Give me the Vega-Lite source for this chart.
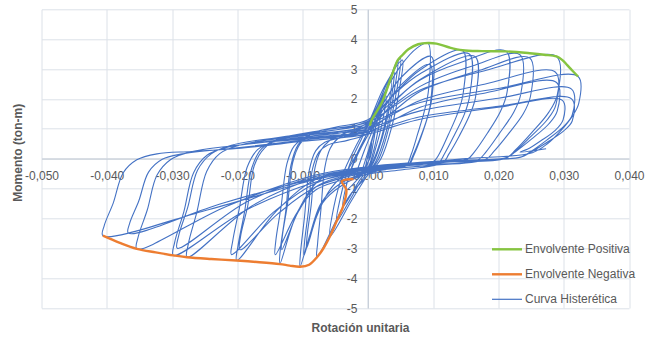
{
  "$schema": "https://vega.github.io/schema/vega-lite/v6.json",
  "autosize": "none",
  "width": 587.5,
  "height": 298.7,
  "padding": {"left": 41.5, "top": 9.3, "right": 17, "bottom": 35},
  "background": "white",
  "config": {
    "view": {"stroke": null},
    "font": "Liberation Sans",
    "axis": {"labelFont": "Liberation Sans", "titleFont": "Liberation Sans"}
  },
  "datasets": {
    "curva": [
      {"x":0,"y":0},
      {"x":0.0003,"y":0.3},{"x":0.0006,"y":0.55},{"x":0.0003,"y":0.1},{"x":0,"y":-0.15},{"x":-0.0005,"y":-0.45},
      {"x":-0.0002,"y":-0.1},{"x":0.0004,"y":0.4},{"x":0.0012,"y":1.05},{"x":0.0008,"y":0.5},{"x":0.0003,"y":0},{"x":-0.0005,"y":-0.3},{"x":-0.0012,"y":-0.62},
      {"x":-0.0006,"y":-0.2},{"x":0.0002,"y":0.35},{"x":0.0011,"y":1.0},{"x":0.0021,"y":1.7},{"x":0.0016,"y":1.0},{"x":0.0008,"y":0.2},{"x":0,"y":-0.3},{"x":-0.0012,"y":-0.55},{"x":-0.0022,"y":-0.68},
      {"x":-0.0015,"y":-0.3},{"x":-0.0005,"y":0.3},{"x":0.0012,"y":1.2},{"x":0.0028,"y":2.1},{"x":0.0022,"y":1.2},{"x":0.0012,"y":0.35},{"x":0.0003,"y":-0.2},{"x":-0.0015,"y":-0.55},{"x":-0.004,"y":-0.76},
      {"x":-0.003,"y":-0.35},{"x":-0.0012,"y":0.35},{"x":0.0008,"y":1.1},{"x":0.002,"y":1.85},{"x":0.0036,"y":2.6},{"x":0.003,"y":1.6},{"x":0.0018,"y":0.5},{"x":0.0005,"y":-0.2},{"x":-0.0012,"y":-0.6},{"x":-0.0033,"y":-1.04},
      {"x":-0.0026,"y":-0.4},{"x":-0.0012,"y":0.3},{"x":0.0005,"y":1.0},{"x":0.0022,"y":1.9},{"x":0.004,"y":2.9},{"x":0.0034,"y":1.8},{"x":0.0022,"y":0.7},{"x":0.0008,"y":-0.15},{"x":-0.0012,"y":-0.7},{"x":-0.0038,"y":-1.6},
      {"x":-0.0032,"y":-0.8},{"x":-0.0018,"y":0.1},{"x":0,"y":0.9},{"x":0.0022,"y":2.0},{"x":0.0046,"y":3.31},{"x":0.004,"y":2.2},{"x":0.0028,"y":0.9},{"x":0.0012,"y":-0.1},{"x":-0.0012,"y":-0.8},{"x":-0.0028,"y":-1.4},{"x":-0.0048,"y":-2.1},
      {"x":-0.0042,"y":-1.3},{"x":-0.0028,"y":-0.2},{"x":-0.001,"y":0.65},{"x":0.0015,"y":1.8},{"x":0.0033,"y":2.7},{"x":0.005,"y":3.35},{"x":0.0045,"y":2.4},{"x":0.0034,"y":1.2},{"x":0.0018,"y":0.05},{"x":-0.0002,"y":-0.6},{"x":-0.0025,"y":-1.4},{"x":-0.0058,"y":-2.6},
      {"x":-0.0052,"y":-1.6},{"x":-0.0038,"y":-0.5},{"x":-0.002,"y":0.35},{"x":0.0003,"y":1.3},{"x":0.0025,"y":2.4},{"x":0.0053,"y":3.3},{"x":0.0048,"y":2.3},{"x":0.0037,"y":1.1},{"x":0.002,"y":0},{"x":0,"y":-0.55},{"x":-0.003,"y":-1.3},{"x":-0.0078,"y":-3.3},
      {"x":-0.0077,"y":-2.83},{"x":-0.0072,"y":-1.72},{"x":-0.0066,"y":-0.3},{"x":-0.0058,"y":0.33},{"x":-0.0047,"y":0.65},
      {"x":-0.002,"y":0.9},{"x":0,"y":1.15},{"x":0.0025,"y":2.2},{"x":0.005,"y":3.1},{"x":0.0075,"y":3.7},{"x":0.0092,"y":3.87},
      {"x":0.0093,"y":2.32},{"x":0.0087,"y":1.63},{"x":0.0076,"y":0.81},{"x":0.0066,"y":0.12},{"x":0.0059,"y":-0.21},{"x":0.003,"y":-0.26},{"x":0,"y":-0.3},{"x":-0.004,"y":-0.62},{"x":-0.006,"y":-1.1},{"x":-0.0085,"y":-2.3},{"x":-0.0104,"y":-3.62},
      {"x":-0.0103,"y":-3.11},{"x":-0.0097,"y":-1.93},{"x":-0.009,"y":-0.41},{"x":-0.008,"y":0.26},{"x":-0.0066,"y":0.55},
      {"x":-0.003,"y":0.75},{"x":0,"y":0.95},{"x":0.0025,"y":1.9},{"x":0.005,"y":2.7},{"x":0.0097,"y":3.42},
      {"x":0.0098,"y":2.04},{"x":0.0092,"y":1.43},{"x":0.0081,"y":0.7},{"x":0.007,"y":0.09},{"x":0.0063,"y":-0.2},{"x":0.003,"y":-0.3},{"x":0,"y":-0.45},{"x":-0.004,"y":-0.8},{"x":-0.0072,"y":-1.5},{"x":-0.0098,"y":-3.25},
      {"x":-0.0097,"y":-2.79},{"x":-0.0091,"y":-1.73},{"x":-0.0085,"y":-0.36},{"x":-0.0075,"y":0.22},{"x":-0.0062,"y":0.45},
      {"x":-0.003,"y":0.62},{"x":0,"y":0.85},{"x":0.0025,"y":1.7},{"x":0.005,"y":2.45},{"x":0.0095,"y":3.15},
      {"x":0.0096,"y":1.87},{"x":0.009,"y":1.3},{"x":0.0079,"y":0.63},{"x":0.0068,"y":0.06},{"x":0.0062,"y":-0.21},{"x":0.003,"y":-0.35},{"x":0,"y":-0.5},{"x":-0.004,"y":-0.9},{"x":-0.007,"y":-1.5},{"x":-0.0094,"y":-3.0},
      {"x":-0.0093,"y":-2.57},{"x":-0.0087,"y":-1.58},{"x":-0.0081,"y":-0.3},{"x":-0.0072,"y":0.27},{"x":-0.0059,"y":0.6},
      {"x":-0.003,"y":0.9},{"x":0,"y":1.2},{"x":0.004,"y":2.15},{"x":0.008,"y":2.97},{"x":0.0145,"y":3.62},
      {"x":0.0146,"y":2.19},{"x":0.0138,"y":1.55},{"x":0.0123,"y":0.79},{"x":0.0109,"y":0.15},{"x":0.01,"y":-0.1},{"x":0.005,"y":-0.2},{"x":0,"y":-0.3},{"x":-0.007,"y":-0.65},{"x":-0.0108,"y":-1.8},{"x":-0.0135,"y":-3.53},
      {"x":-0.0134,"y":-3.01},{"x":-0.0126,"y":-1.79},{"x":-0.0118,"y":-0.23},{"x":-0.0107,"y":0.46},{"x":-0.009,"y":0.81},
      {"x":-0.005,"y":1.05},{"x":0,"y":1.3},{"x":0.004,"y":2.15},{"x":0.008,"y":2.84},{"x":0.0155,"y":3.51},
      {"x":0.0156,"y":2.12},{"x":0.0148,"y":1.5},{"x":0.0132,"y":0.77},{"x":0.0117,"y":0.15},{"x":0.0108,"y":-0.14},{"x":0.005,"y":-0.3},{"x":0,"y":-0.42},{"x":-0.008,"y":-0.95},{"x":-0.0111,"y":-1.9},{"x":-0.0142,"y":-3.22},
      {"x":-0.0141,"y":-2.74},{"x":-0.0133,"y":-1.61},{"x":-0.0124,"y":-0.17},{"x":-0.0113,"y":0.42},{"x":-0.0095,"y":0.7},
      {"x":-0.005,"y":0.85},{"x":0,"y":1.0},{"x":0.004,"y":1.9},{"x":0.008,"y":2.65},{"x":0.0164,"y":3.42},
      {"x":0.0165,"y":2.07},{"x":0.0156,"y":1.47},{"x":0.014,"y":0.76},{"x":0.0124,"y":0.15},{"x":0.0115,"y":-0.13},{"x":0.005,"y":-0.38},{"x":0,"y":-0.52},{"x":-0.008,"y":-1.05},{"x":-0.0106,"y":-1.75},{"x":-0.0132,"y":-3.05},
      {"x":-0.0131,"y":-2.59},{"x":-0.0123,"y":-1.51},{"x":-0.0115,"y":-0.12},{"x":-0.0104,"y":0.49},{"x":-0.0088,"y":0.8},
      {"x":-0.004,"y":1.0},{"x":0,"y":1.25},{"x":0.004,"y":1.95},{"x":0.008,"y":2.63},{"x":0.014,"y":3.2},{"x":0.0212,"y":3.59},
      {"x":0.0213,"y":2.2},{"x":0.0203,"y":1.58},{"x":0.0183,"y":0.85},{"x":0.0163,"y":0.22},{"x":0.0152,"y":-0.02},{"x":0.008,"y":-0.12},{"x":0,"y":-0.28},{"x":-0.008,"y":-0.7},{"x":-0.014,"y":-1.75},{"x":-0.0201,"y":-3.41},
      {"x":-0.0199,"y":-2.92},{"x":-0.0189,"y":-1.79},{"x":-0.0178,"y":-0.32},{"x":-0.0163,"y":0.33},{"x":-0.014,"y":0.62},
      {"x":-0.007,"y":0.85},{"x":0,"y":1.1},{"x":0.004,"y":1.8},{"x":0.008,"y":2.42},{"x":0.016,"y":3.1},{"x":0.0233,"y":3.48},
      {"x":0.0234,"y":2.14},{"x":0.0223,"y":1.54},{"x":0.0201,"y":0.83},{"x":0.0181,"y":0.23},{"x":0.0168,"y":-0.05},{"x":0.008,"y":-0.2},{"x":0,"y":-0.36},{"x":-0.008,"y":-0.82},{"x":-0.0145,"y":-1.8},{"x":-0.0209,"y":-3.21},
      {"x":-0.0207,"y":-2.75},{"x":-0.0197,"y":-1.67},{"x":-0.0185,"y":-0.29},{"x":-0.0169,"y":0.3},{"x":-0.0146,"y":0.55},
      {"x":-0.007,"y":0.75},{"x":0,"y":0.95},{"x":0.004,"y":1.6},{"x":0.008,"y":2.25},{"x":0.017,"y":2.95},{"x":0.0248,"y":3.37},
      {"x":0.0249,"y":2.08},{"x":0.0238,"y":1.5},{"x":0.0215,"y":0.82},{"x":0.0193,"y":0.24},{"x":0.018,"y":-0.03},{"x":0.008,"y":-0.25},{"x":0,"y":-0.45},{"x":-0.008,"y":-0.95},{"x":-0.0138,"y":-1.85},{"x":-0.0196,"y":-3.05},
      {"x":-0.0195,"y":-2.6},{"x":-0.0184,"y":-1.57},{"x":-0.0174,"y":-0.23},{"x":-0.0158,"y":0.36},{"x":-0.0136,"y":0.66},
      {"x":-0.007,"y":0.95},{"x":0,"y":1.22},{"x":0.004,"y":1.75},{"x":0.008,"y":2.3},{"x":0.018,"y":2.95},{"x":0.0289,"y":3.42},
      {"x":0.029,"y":2.13},{"x":0.0277,"y":1.55},{"x":0.0251,"y":0.87},{"x":0.0226,"y":0.29},{"x":0.0211,"y":0.02},{"x":0.012,"y":-0.08},{"x":0.004,"y":-0.22},{"x":0,"y":-0.32},{"x":-0.008,"y":-0.65},{"x":-0.0179,"y":-1.6},{"x":-0.0277,"y":-3.3},
      {"x":-0.0275,"y":-2.85},{"x":-0.0262,"y":-1.79},{"x":-0.0247,"y":-0.43},{"x":-0.0227,"y":0.17},{"x":-0.0197,"y":0.45},
      {"x":-0.01,"y":0.78},{"x":0,"y":1.05},{"x":0.004,"y":1.5},{"x":0.008,"y":1.95},{"x":0.018,"y":2.5},{"x":0.0287,"y":2.9},
      {"x":0.0288,"y":1.8},{"x":0.0275,"y":1.31},{"x":0.0249,"y":0.73},{"x":0.0225,"y":0.23},{"x":0.021,"y":0},{"x":0.012,"y":-0.12},{"x":0.004,"y":-0.28},{"x":0,"y":-0.4},{"x":-0.008,"y":-0.78},{"x":-0.0189,"y":-1.75},{"x":-0.0298,"y":-3.24},
      {"x":-0.0296,"y":-2.8},{"x":-0.0282,"y":-1.78},{"x":-0.0267,"y":-0.47},{"x":-0.0246,"y":0.12},{"x":-0.0215,"y":0.38},
      {"x":-0.01,"y":0.66},{"x":0,"y":0.9},{"x":0.004,"y":1.3},{"x":0.008,"y":1.72},{"x":0.018,"y":2.2},{"x":0.0289,"y":2.55},
      {"x":0.029,"y":1.59},{"x":0.0277,"y":1.16},{"x":0.0251,"y":0.66},{"x":0.0226,"y":0.23},{"x":0.0211,"y":0.03},{"x":0.012,"y":-0.06},{"x":0.004,"y":-0.2},{"x":0,"y":-0.3},{"x":-0.008,"y":-0.6},{"x":-0.0186,"y":-1.45},{"x":-0.0292,"y":-3.0},
      {"x":-0.029,"y":-2.59},{"x":-0.0276,"y":-1.63},{"x":-0.0261,"y":-0.39},{"x":-0.024,"y":0.16},{"x":-0.0209,"y":0.45},
      {"x":-0.01,"y":0.82},{"x":0,"y":1.15},{"x":0.004,"y":1.55},{"x":0.008,"y":1.88},{"x":0.02,"y":2.35},{"x":0.0322,"y":2.75},
      {"x":0.0323,"y":1.85},{"x":0.0314,"y":1.45},{"x":0.0296,"y":0.95},{"x":0.0275,"y":0.5},{"x":0.0252,"y":0.2},{"x":0.015,"y":0},{"x":0.005,"y":-0.18},{"x":0,"y":-0.27},{"x":-0.008,"y":-0.55},{"x":-0.0217,"y":-1.6},{"x":-0.0354,"y":-3.02},
      {"x":-0.0352,"y":-2.63},{"x":-0.0338,"y":-1.72},{"x":-0.0323,"y":-0.55},{"x":-0.0302,"y":-0.03},{"x":-0.0271,"y":0.23},
      {"x":-0.02,"y":0.45},{"x":-0.01,"y":0.72},{"x":0,"y":1.0},{"x":0.004,"y":1.32},{"x":0.008,"y":1.6},{"x":0.02,"y":2.02},{"x":0.0312,"y":2.33},
      {"x":0.0313,"y":1.46},{"x":0.03,"y":1.08},{"x":0.0274,"y":0.62},{"x":0.0249,"y":0.23},{"x":0.0234,"y":0.05},{"x":0.015,"y":-0.05},{"x":0.005,"y":-0.22},{"x":0,"y":-0.34},{"x":-0.008,"y":-0.66},{"x":-0.0224,"y":-1.5},{"x":-0.0367,"y":-2.49},
      {"x":-0.0365,"y":-2.17},{"x":-0.0351,"y":-1.42},{"x":-0.0336,"y":-0.45},{"x":-0.0315,"y":-0.02},{"x":-0.0284,"y":0.16},
      {"x":-0.02,"y":0.36},{"x":-0.01,"y":0.62},{"x":0,"y":0.88},{"x":0.004,"y":1.15},{"x":0.008,"y":1.4},{"x":0.02,"y":1.75},{"x":0.0312,"y":2.0},
      {"x":0.0313,"y":1.26},{"x":0.03,"y":0.93},{"x":0.0274,"y":0.54},{"x":0.0249,"y":0.21},{"x":0.0234,"y":0.05},{"x":0.015,"y":-0.07},{"x":0.005,"y":-0.24},{"x":0,"y":-0.36},{"x":-0.008,"y":-0.7},{"x":-0.0243,"y":-1.7},{"x":-0.0406,"y":-2.58},
      {"x":-0.0404,"y":-2.25},{"x":-0.039,"y":-1.48},{"x":-0.0375,"y":-0.48},{"x":-0.0354,"y":-0.04},{"x":-0.0323,"y":0.16},
      {"x":-0.027,"y":0.24},{"x":-0.02,"y":0.34},{"x":-0.01,"y":0.58},{"x":0,"y":0.82},{"x":0.004,"y":1.08},{"x":0.008,"y":1.32},{"x":0.02,"y":1.72},{"x":0.0298,"y":1.95},
      {"x":0.0299,"y":1.3},{"x":0.0287,"y":0.95},{"x":0.0265,"y":0.6},{"x":0.0245,"y":0.32},{"x":0.0233,"y":0.22},{"x":0.0273,"y":0.33}
    ],
    "envolventes": [
      {"s":"Envolvente Positiva","x":0.0003,"y":1.1},
      {"s":"Envolvente Positiva","x":0.0006,"y":1.3},
      {"s":"Envolvente Positiva","x":0.0021,"y":1.86},
      {"s":"Envolvente Positiva","x":0.0036,"y":2.75},
      {"s":"Envolvente Positiva","x":0.0046,"y":3.31},
      {"s":"Envolvente Positiva","x":0.0053,"y":3.47},
      {"s":"Envolvente Positiva","x":0.0062,"y":3.66},
      {"s":"Envolvente Positiva","x":0.0077,"y":3.83},
      {"s":"Envolvente Positiva","x":0.0092,"y":3.87},
      {"s":"Envolvente Positiva","x":0.0105,"y":3.85},
      {"s":"Envolvente Positiva","x":0.0125,"y":3.72},
      {"s":"Envolvente Positiva","x":0.0145,"y":3.63},
      {"s":"Envolvente Positiva","x":0.0175,"y":3.6},
      {"s":"Envolvente Positiva","x":0.0212,"y":3.59},
      {"s":"Envolvente Positiva","x":0.0248,"y":3.53},
      {"s":"Envolvente Positiva","x":0.027,"y":3.48},
      {"s":"Envolvente Positiva","x":0.0289,"y":3.42},
      {"s":"Envolvente Positiva","x":0.0298,"y":3.3},
      {"s":"Envolvente Positiva","x":0.0305,"y":3.14},
      {"s":"Envolvente Positiva","x":0.0313,"y":2.95},
      {"s":"Envolvente Positiva","x":0.0322,"y":2.75},
      {"s":"Envolvente Negativa","x":-0.0022,"y":-0.68},
      {"s":"Envolvente Negativa","x":-0.004,"y":-0.76},
      {"s":"Envolvente Negativa","x":-0.0033,"y":-1.04},
      {"s":"Envolvente Negativa","x":-0.0038,"y":-1.6},
      {"s":"Envolvente Negativa","x":-0.0048,"y":-2.1},
      {"s":"Envolvente Negativa","x":-0.0058,"y":-2.6},
      {"s":"Envolvente Negativa","x":-0.0068,"y":-3.0},
      {"s":"Envolvente Negativa","x":-0.0078,"y":-3.3},
      {"s":"Envolvente Negativa","x":-0.009,"y":-3.55},
      {"s":"Envolvente Negativa","x":-0.0104,"y":-3.62},
      {"s":"Envolvente Negativa","x":-0.012,"y":-3.58},
      {"s":"Envolvente Negativa","x":-0.0135,"y":-3.53},
      {"s":"Envolvente Negativa","x":-0.017,"y":-3.46},
      {"s":"Envolvente Negativa","x":-0.0201,"y":-3.41},
      {"s":"Envolvente Negativa","x":-0.024,"y":-3.36},
      {"s":"Envolvente Negativa","x":-0.0277,"y":-3.3},
      {"s":"Envolvente Negativa","x":-0.0298,"y":-3.24},
      {"s":"Envolvente Negativa","x":-0.0325,"y":-3.14},
      {"s":"Envolvente Negativa","x":-0.0354,"y":-3.02},
      {"s":"Envolvente Negativa","x":-0.038,"y":-2.82},
      {"s":"Envolvente Negativa","x":-0.0406,"y":-2.58}
    ]
  },
  "layer": [
    {
      "data": {"name": "curva"},
      "mark": {"type": "line", "strokeWidth": 1.1, "strokeJoin": "round", "interpolate": "catmull-rom"},
      "encoding": {
        "x": {
          "field": "x", "type": "quantitative",
          "scale": {"domain": [-0.05, 0.04], "nice": false, "zero": false},
          "axis": {
            "orient": "bottom", "offset": -149.35, "title": null,
            "values": [-0.05, -0.04, -0.03, -0.02, -0.01, 0, 0.01, 0.02, 0.03, 0.04],
            "labelExpr": "(datum.value < -0.00001 ? '-' : '') + replace(format(abs(datum.value), '.3f'), '.', ',')",
            "grid": false, "ticks": false, "tickSize": 0,
            "domain": true, "domainColor": "#C9D0DA", "domainWidth": 1.2,
            "labelFontSize": 12, "labelColor": "#595959", "labelBaseline": "middle", "labelPadding": 17,
            "labelFlush": false, "labelOverlap": false, "labelBound": false
          }
        },
        "y": {
          "field": "y", "type": "quantitative",
          "scale": {"domain": [-5, 5], "nice": false, "zero": false},
          "axis": {
            "orient": "left", "offset": -326.4, "title": null,
            "values": [-5, -4, -3, -2, -1, 0, 1, 2, 3, 4, 5],
            "labelExpr": "(datum.value < 0 ? '-' : '') + abs(datum.value)",
            "grid": false, "ticks": false, "tickSize": 0,
            "domain": true, "domainColor": "#C9D0DA", "domainWidth": 1.2,
            "labelFontSize": 12, "labelColor": "#595959", "labelPadding": 11,
            "labelOverlap": false, "labelBound": false, "labelFlush": false
          }
        },
        "order": {"value": null},
        "color": {
          "datum": "Curva Histerética",
          "scale": {
            "domain": ["Envolvente Positiva", "Envolvente Negativa", "Curva Histerética"],
            "range": ["#86C440", "#ED7D31", "#4472C4"]
          }
        }
      }
    },
    {
      "data": {"name": "envolventes"},
      "mark": {"type": "line", "strokeWidth": 2.4, "strokeJoin": "round", "interpolate": "catmull-rom"},
      "encoding": {
        "x": {
          "field": "x", "type": "quantitative",
          "scale": {"domain": [-0.05, 0.04], "nice": false, "zero": false},
          "axis": {
            "orient": "bottom", "title": "Rotación unitaria",
            "values": [-0.05, -0.04, -0.03, -0.02, -0.01, 0, 0.01, 0.02, 0.03, 0.04],
            "labels": false, "ticks": false, "domain": false,
            "grid": true, "gridColor": "#DCE1E8", "gridWidth": 1,
            "titleFontSize": 12, "titleFontWeight": "bold", "titleColor": "#595959",
            "titleX": 318.5, "titleY": 19, "titleBaseline": "middle", "titleAnchor": "middle"
          }
        },
        "y": {
          "field": "y", "type": "quantitative",
          "scale": {"domain": [-5, 5], "nice": false, "zero": false},
          "axis": {
            "orient": "left", "title": "Momento (ton-m)",
            "values": [-5, -4, -3, -2, -1, 0, 1, 2, 3, 4, 5],
            "labels": false, "ticks": false, "domain": false,
            "grid": true, "gridColor": "#DCE1E8", "gridWidth": 1,
            "titleFontSize": 12, "titleFontWeight": "bold", "titleColor": "#595959",
            "titleX": -24.5, "titleY": 143, "titleAngle": -90, "titleBaseline": "middle", "titleAnchor": "middle"
          }
        },
        "order": {"value": null},
        "detail": {"field": "s"},
        "color": {
          "field": "s", "type": "nominal",
          "scale": {
            "domain": ["Envolvente Positiva", "Envolvente Negativa", "Curva Histerética"],
            "range": ["#86C440", "#ED7D31", "#4472C4"]
          },
          "legend": {
            "title": null, "orient": "none", "legendX": 459.5, "legendY": 234,
            "symbolType": "M-3,0H3", "symbolSize": 100, "symbolStrokeWidth": 2.4,
            "labelFontSize": 12, "labelColor": "#595959", "labelOffset": 12,
            "rowPadding": 13, "padding": 0,
            "encode": {"symbols": {"update": {"strokeWidth": {"signal": "datum.value === 'Curva Histerética' ? 1.2 : 2.4"}}}}
          }
        }
      }
    }
  ],
  "resolve": {"axis": {"x": "independent", "y": "independent"}}
}
